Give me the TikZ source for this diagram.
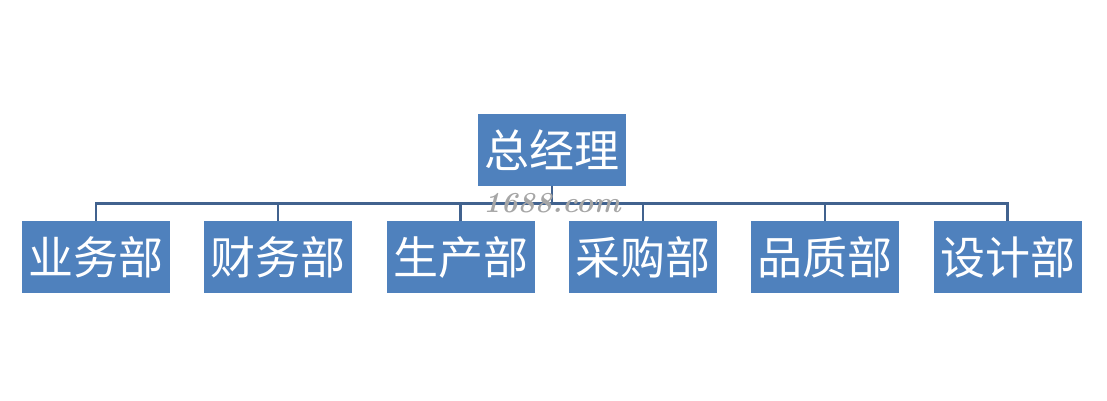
\documentclass[tikz,border=0pt]{standalone}
\usepackage{fontspec}
\newfontfamily\cjk{Noto Sans CJK SC}
\usetikzlibrary{positioning}
\definecolor{boxblue}{HTML}{4F81BD}
\definecolor{linkblue}{HTML}{41628E}
\begin{document}
\begin{tikzpicture}[x=1pt,y=-1pt,
 dept/.style={rectangle,fill=boxblue,text=white,minimum width=148pt,minimum height=72pt,inner sep=0pt,font=\cjk\fontsize{45}{48}\selectfont},
 link/.style={draw=linkblue,line width=2.6pt}]
\useasboundingbox (0,0) rectangle (1107,400);
\node[dept] (zjl) at (552,150) {总经理};
\node[dept] (ywb) at (96,257) {业务部};
\node[dept] (cwb) at (278,257) {财务部};
\node[dept] (scb) at (460.5,257) {生产部};
\node[dept] (cgb) at (643,257) {采购部};
\node[dept] (pzb) at (825,257) {品质部};
\node[dept] (sjb) at (1007.5,257) {设计部};
\draw[link] (zjl.south) -- ++(0,17) -| (ywb.north);
\draw[link] (zjl.south) -- ++(0,17) -| (cwb.north);
\draw[link] (zjl.south) -- ++(0,17) -| (scb.north);
\draw[link] (zjl.south) -- ++(0,17) -| (cgb.north);
\draw[link] (zjl.south) -- ++(0,17) -| (pzb.north);
\draw[link] (zjl.south) -- ++(0,17) -| (sjb.north);
% watermark
\node[text=gray!70,font=\bfseries\itshape\fontsize{29}{30}\selectfont] (wm) at (552,203) {1688.com};
\end{tikzpicture}
\end{document}
